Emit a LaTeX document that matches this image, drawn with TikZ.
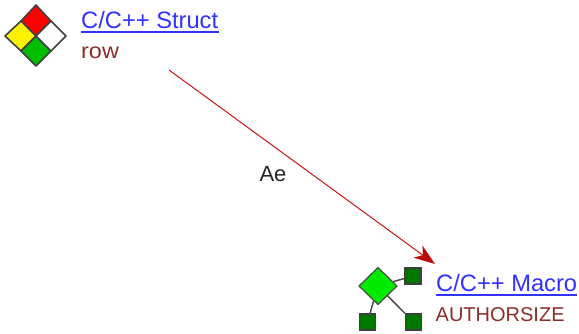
\documentclass[tikz,border=0pt]{standalone}
\usepackage{fontspec}
\usepackage{graphicx}
\setmainfont{Liberation Sans}
\definecolor{linkblue}{RGB}{50,50,255}
\definecolor{subred}{RGB}{140,45,40}
\definecolor{arrowred}{RGB}{200,20,20}
\definecolor{headred}{RGB}{190,10,10}
\definecolor{leafgreen}{RGB}{0,120,0}
\definecolor{brightgreen}{RGB}{0,235,0}
\definecolor{midgreen}{RGB}{0,190,0}
\usetikzlibrary{arrows.meta}
\tikzset{
  titletext/.style={anchor=base west,inner sep=0pt,text=linkblue,font=\fontsize{23.7}{23.7}\selectfont},
  subtext/.style={anchor=base west,inner sep=0pt,text=subred,font=\fontsize{20}{20}\selectfont},
  edgetext/.style={inner sep=0pt,text=black!85,font=\fontsize{22}{22}\selectfont},
  quad/.style={draw=black!75,line width=1.6pt,line join=round},
  leaf/.style={draw=black!75,line width=1.4pt,fill=leafgreen,minimum size=16pt,inner sep=0pt},
  branch/.style={draw=black!70,line width=1.5pt},
  linkline/.style={draw=linkblue,line width=1.4pt},
  relation/.style={draw=arrowred,line width=1pt,-{Stealth[length=21pt,width=15pt,inset=6pt,color=headred]}}
}
\begin{document}
\begin{tikzpicture}[x=1pt,y=-1pt]
\useasboundingbox (0,0) rectangle (579,333);
% structure icon
\filldraw[quad,fill=red] (36,36) -- (21,21) -- (36,5) -- (51,21) -- cycle;
\filldraw[quad,fill=yellow] (36,36) -- (21,21) -- (5,36) -- (21,51) -- cycle;
\filldraw[quad,fill=midgreen] (36,36) -- (21,51) -- (36,66) -- (51,51) -- cycle;
\filldraw[quad,fill=white] (36,36) -- (51,21) -- (66,36) -- (51,51) -- cycle;
% macro icon
\coordinate (hub) at (378,286);
\node[leaf] (leafa) at (413,276) {};
\node[leaf] (leafb) at (367.5,322) {};
\node[leaf] (leafc) at (413.5,322) {};
\draw[branch] (hub) -- (leafa);
\draw[branch] (hub) -- (leafb);
\draw[branch] (hub) -- (leafc);
\filldraw[draw=black!70,line width=1.2pt,fill=brightgreen,line join=round] (378,267.5) -- (397,286) -- (378,304.5) -- (359,286) -- cycle;
% labels
\node[titletext] (structname) at (81,28.3) {C/C++ Struct};
\draw[linkline] (81,32) -- (219,32);
\node[subtext] (structsub) at (81,58.5) {\scalebox{1.17}[1.08]{row}};
\node[titletext] (macroname) at (436,291.7) {C/C++ Macro};
\draw[linkline] (436,295) -- (577,295);
\node[subtext] (macrosub) at (435.5,321.7) {AUTHORSIZE};
% relation
\coordinate (from) at (169,70);
\coordinate (to) at (435,264);
\draw[relation] (from) -- (to);
\node[edgetext] (rel) at (273,174) {Ae};
\end{tikzpicture}
\end{document}
